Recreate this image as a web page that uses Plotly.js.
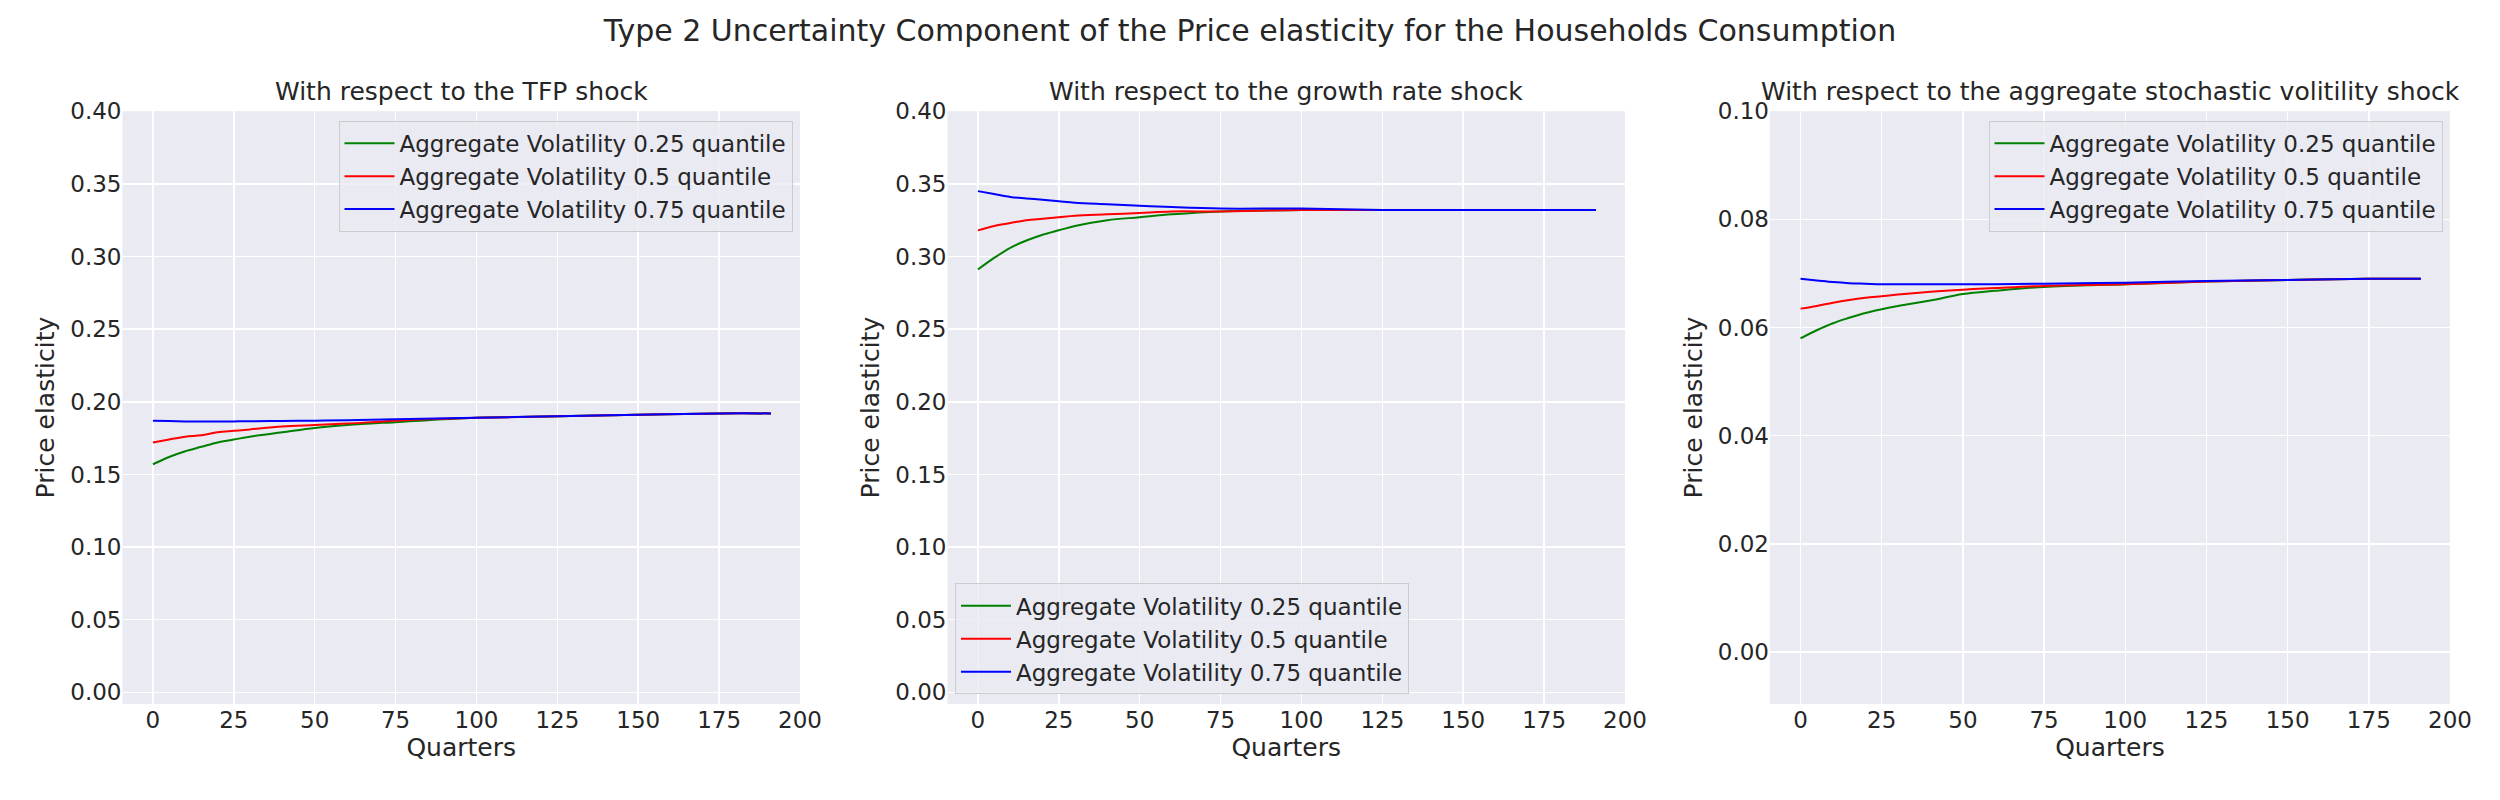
<!DOCTYPE html>
<html><head><meta charset="utf-8">
<script src="https://cdn.plot.ly/plotly-3.0.1.min.js"></script>
<style>body{margin:0}#c{width:2500px;height:800px}</style></head>
<body><div id="c"></div>
<script>
const quarters = [0,5,10,15,20,25,30,40,50,60,75,100,125,150,175,191];
const seriesNames = ["Aggregate Volatility 0.25 quantile","Aggregate Volatility 0.5 quantile","Aggregate Volatility 0.75 quantile"];
const tfpQ25 = [0.157,0.162,0.166,0.169,0.172,0.174,0.176,0.179,0.182,0.184,0.186,0.189,0.190,0.191,0.192,0.192];
const tfpQ50 = [0.172,0.174,0.176,0.177,0.179,0.180,0.181,0.183,0.184,0.185,0.187,0.189,0.190,0.191,0.192,0.192];
const tfpQ75 = [0.187,0.1867,0.1865,0.1865,0.1865,0.1865,0.1866,0.1868,0.187,0.1873,0.188,0.189,0.190,0.191,0.192,0.192];
const grQ25 = [0.291,0.299,0.306,0.311,0.315,0.318,0.321,0.325,0.327,0.329,0.331,0.332,0.332,0.332,0.332,0.332];
const grQ50 = [0.318,0.321,0.323,0.325,0.326,0.327,0.328,0.329,0.330,0.331,0.331,0.332,0.332,0.332,0.332,0.332];
const grQ75 = [0.345,0.343,0.341,0.340,0.339,0.338,0.337,0.336,0.335,0.334,0.333,0.333,0.332,0.332,0.332,0.332];
const volQ25 = [0.058,0.0595,0.0608,0.0618,0.0627,0.0634,0.064,0.065,0.0662,0.0668,0.0675,0.068,0.0685,0.0688,0.069,0.069];
const volQ50 = [0.0635,0.064,0.0646,0.0651,0.0655,0.0658,0.0661,0.0666,0.067,0.0673,0.0677,0.068,0.0685,0.0688,0.069,0.069];
const volQ75 = [0.069,0.0687,0.0684,0.0682,0.0681,0.068,0.068,0.068,0.068,0.068,0.0681,0.0683,0.0686,0.0688,0.069,0.069];
const subTitles = ["With respect to the TFP shock","With respect to the growth rate shock","With respect to the aggregate stochastic volitility shock"];
const colors = ["green","red","blue"];
const panels = [[tfpQ25,tfpQ50,tfpQ75],[grQ25,grQ50,grQ75],[volQ25,volQ50,volQ75]];
const font = "DejaVu Sans, sans-serif";
const tc = "#262626";
const data = [];
panels.forEach((p,i)=>p.forEach((ys,j)=>data.push({x:quarters,y:ys,type:"scatter",mode:"lines",
  name:seriesNames[j],line:{color:colors[j],width:2,shape:"spline"},xaxis:i?"x"+(i+1):"x",yaxis:i?"y"+(i+1):"y",
  legend:i?"legend"+(i+1):"legend",showlegend:true})));
const doms = [[0.049,0.320],[0.379,0.650],[0.708,0.980]];
const yr = [[-0.008,0.40],[-0.008,0.40],[-0.0096,0.10]];
const ytk = [[0,0.05,0.1,0.15,0.2,0.25,0.3,0.35,0.4],[0,0.05,0.1,0.15,0.2,0.25,0.3,0.35,0.4],[0,0.02,0.04,0.06,0.08,0.1]];
const layout = {width:2500,height:800,margin:{l:0,r:0,t:0,b:0},paper_bgcolor:"white",plot_bgcolor:"#EAEAF2",
  font:{family:font,color:tc,size:24},
  title:{text:"Type 2 Uncertainty Component of the Price elasticity for the Households Consumption",font:{size:30,color:tc},x:0.5,y:0.962,xanchor:"center",yanchor:"middle"},
  annotations:[]};
const ydom=[0.12,0.861];
for(let i=0;i<3;i++){
  const s=i?String(i+1):"";
  layout["xaxis"+s]={domain:doms[i],anchor:"y"+s,range:[-9.4,200],tickvals:[0,25,50,75,100,125,150,175,200],
    gridcolor:"white",gridwidth:1.5,zeroline:false,showline:false,ticks:"",tickfont:{size:23},
    title:{text:"Quarters",font:{size:25},standoff:4}};
  layout["yaxis"+s]={domain:ydom,anchor:"x"+s,range:yr[i],tickvals:ytk[i],tickformat:".2f",
    gridcolor:"white",gridwidth:1.5,zeroline:false,showline:false,ticks:"",tickfont:{size:23},
    title:{text:"Price elasticity",font:{size:25},standoff:8}};
  layout.annotations.push({text:subTitles[i],xref:"paper",yref:"paper",x:(doms[i][0]+doms[i][1])/2,y:ydom[1]+0.004,
    xanchor:"center",yanchor:"bottom",showarrow:false,font:{size:25,color:tc}});
  const top = i!==1;
  layout["legend"+s]={x:top?doms[i][1]-0.003:doms[i][0]+0.003,y:top?ydom[1]-0.012:ydom[0]+0.012,
    xanchor:top?"right":"left",yanchor:top?"top":"bottom",bgcolor:"rgba(234,234,242,0.8)",bordercolor:"#cccccc",borderwidth:1,
    font:{size:23,color:tc},itemwidth:50,tracegroupgap:0};
}
Plotly.newPlot("c",data,layout,{staticPlot:true});
</script></body></html>
